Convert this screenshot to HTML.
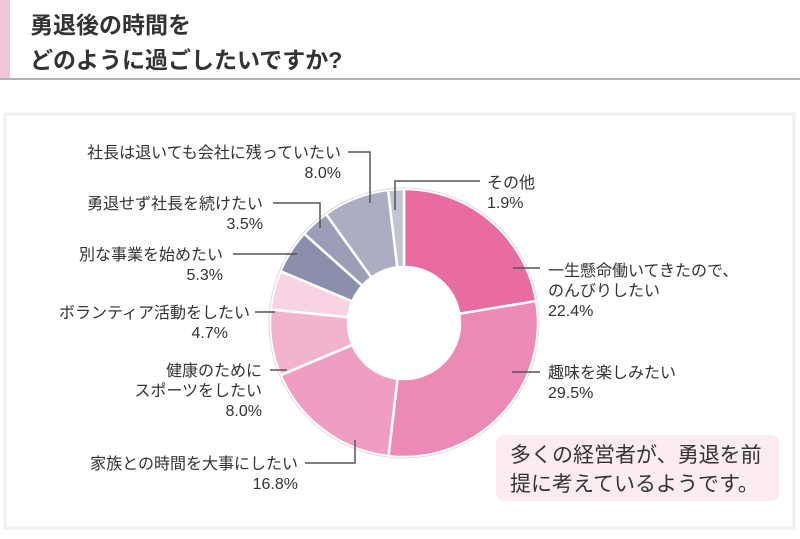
<!DOCTYPE html>
<html><head><meta charset="utf-8">
<style>
html,body{margin:0;padding:0;background:#fff;}
body{width:800px;height:534px;overflow:hidden;position:relative;font-family:"Liberation Sans","Noto Sans CJK JP",sans-serif;color:#333;}
svg text{font-family:"Liberation Sans","Noto Sans CJK JP",sans-serif;fill:#333;}
</style></head><body>
<svg width="800" height="534" viewBox="0 0 800 534">
  <rect x="0" y="0" width="10" height="78" fill="#f5c6da"/>
  <line x1="0" y1="79" x2="800" y2="79" stroke="#999" stroke-width="1.5"/>
  <text x="30" y="33" font-size="23" font-weight="bold">勇退後の時間を</text>
  <text x="30" y="68" font-size="23" font-weight="bold">どのように過ごしたいですか?</text>
  <rect x="5" y="114" width="789" height="414" fill="#fff" stroke="#efefef" stroke-width="3"/>
  <g id="slices"></g>
  <g id="leaders" stroke="#555" stroke-width="1.5" fill="none"></g>
  <g id="labels" font-size="16"></g>
  <rect x="496" y="435" width="283" height="66" rx="8" fill="#fdebf3"/>
  <text x="510" y="462" font-size="21">多くの経営者が、勇退を前</text>
  <text x="510" y="491" font-size="21">提に考えているようです。</text>
</svg>
<script>
const categories=["一生懸命働いてきたので、のんびりしたい","趣味を楽しみたい","家族との時間を大事にしたい","健康のためにスポーツをしたい","ボランティア活動をしたい","別な事業を始めたい","勇退せず社長を続けたい","社長は退いても会社に残っていたい","その他"];
const values=[22.4,29.5,16.8,8.0,4.7,5.3,3.5,8.0,1.9];
const valueLabels=["22.4%","29.5%","16.8%","8.0%","4.7%","5.3%","3.5%","8.0%","1.9%"];
const colors=["#e96ca0","#ec8ab5","#f09dc2","#f3b3cf","#f8d3e3","#8c8fab","#9c9eb7","#abadc3","#c2c4d5"];
const cx=404,cy=323,R=134,r=56;
const NS="http://www.w3.org/2000/svg";
const total=values.reduce((a,b)=>a+b,0);
function pt(a,rad){return [cx+rad*Math.sin(a),cy-rad*Math.cos(a)];}
let acc=0;
const g=document.getElementById('slices');
values.forEach((v,i)=>{
  const a0=acc/total*2*Math.PI; acc+=v; const a1=acc/total*2*Math.PI;
  const large=(a1-a0)>Math.PI?1:0;
  const p0=pt(a0,R),p1=pt(a1,R),q1=pt(a1,r),q0=pt(a0,r);
  const p=document.createElementNS(NS,'path');
  p.setAttribute('d',`M${p0[0]},${p0[1]}A${R},${R} 0 ${large} 1 ${p1[0]},${p1[1]}L${q1[0]},${q1[1]}A${r},${r} 0 ${large} 0 ${q0[0]},${q0[1]}Z`);
  p.setAttribute('fill',colors[i]);p.setAttribute('stroke','#fff');p.setAttribute('stroke-width','2.5');
  
  
  g.appendChild(p);
});
const ring=document.createElementNS(NS,'circle');
ring.setAttribute('cx',cx);ring.setAttribute('cy',cy);ring.setAttribute('r',R+1);ring.setAttribute('fill','none');ring.setAttribute('stroke','#ddd');ring.setAttribute('stroke-width','1');


g.appendChild(ring);
const L=document.getElementById('leaders');
const lines=["M513,268H540","M512,372H540","M305,463H355V440","M270,370H287","M255,312H275","M233,254H297","M273,203H320V228","M348,152H370V203","M395,210V181H480"];
lines.forEach((d,i)=>{const p=document.createElementNS(NS,'path');p.setAttribute('d',d);


L.appendChild(p);});
const T=document.getElementById('labels');
const lab=[
 [["一生懸命働いてきたので、","のんびりしたい",valueLabels[0]],548,276,"start"],
 [["趣味を楽しみたい",valueLabels[1]],548,378,"start"],
 [["家族との時間を大事にしたい",valueLabels[2]],298,469,"end"],
 [["健康のために","スポーツをしたい",valueLabels[3]],262,376,"end"],
 [["ボランティア活動をしたい",valueLabels[4]],250,318,"end"],
 [["別な事業を始めたい",valueLabels[5]],223,260,"end"],
 [["勇退せず社長を続けたい",valueLabels[6]],263,209,"end"],
 [["社長は退いても会社に残っていたい",valueLabels[7]],341,158,"end"],
 [["その他",valueLabels[8]],487,188,"start"]
];
lab.forEach((l,i)=>{
  const t=document.createElementNS(NS,'text');
  t.setAttribute('text-anchor',l[3]);
  
  
  l[0].forEach((s,j)=>{const ts=document.createElementNS(NS,'tspan');ts.setAttribute('x',(i===4&&j===1)?228:l[1]);ts.setAttribute('y',l[2]+j*20);ts.textContent=s;t.appendChild(ts);});
  T.appendChild(t);
});
</script>
</body></html>
